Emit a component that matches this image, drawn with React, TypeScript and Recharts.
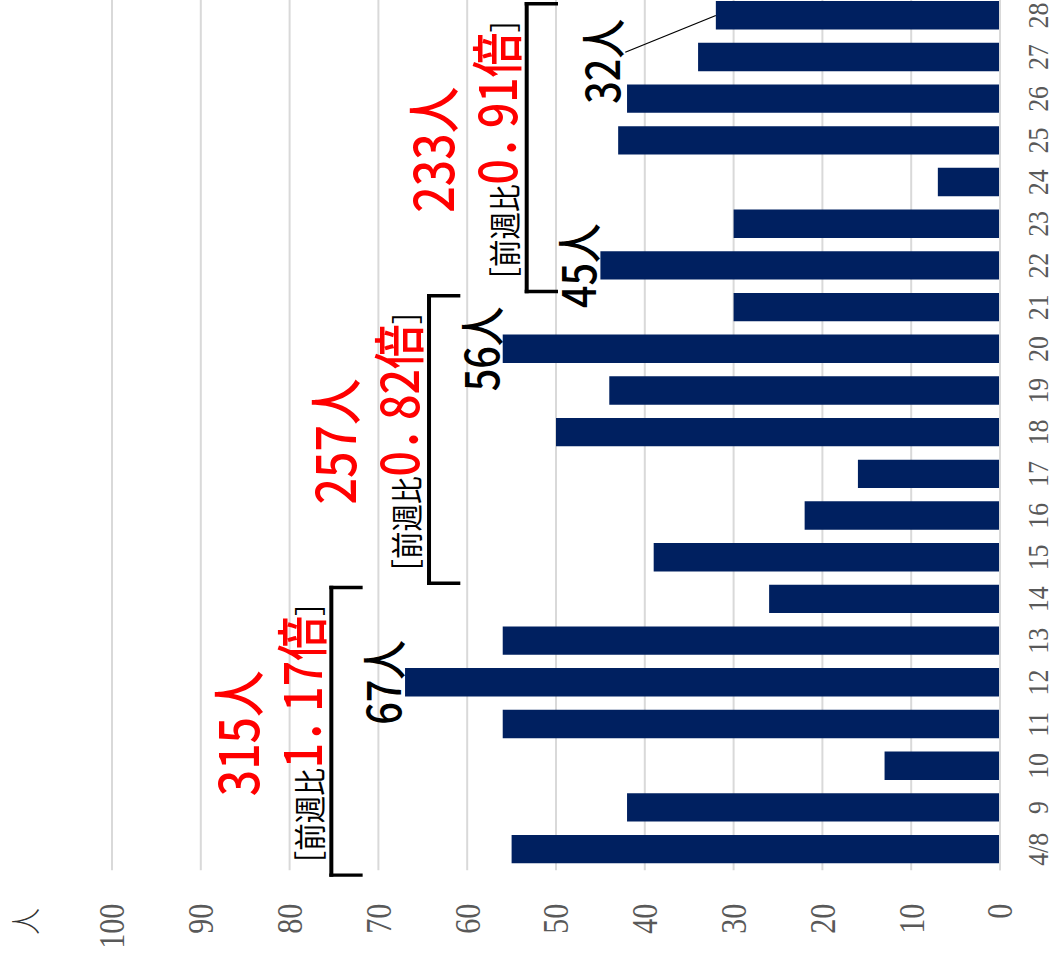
import {
  BarChart,
  Bar,
  XAxis,
  YAxis,
  CartesianGrid,
  ReferenceLine,
  ReferenceDot,
} from "recharts";

// daily new cases, 4/8 .. 4/28
const days = [
  "4/8", "9", "10", "11", "12", "13", "14",
  "15", "16", "17", "18", "19", "20", "21",
  "22", "23", "24", "25", "26", "27", "28",
];
const cases = [
  55, 42, 13, 56, 67, 56, 26,
  39, 22, 16, 50, 44, 56, 30,
  45, 30, 7, 43, 42, 34, 32,
];
const valueTicks = [0, 10, 20, 30, 40, 50, 60, 70, 80, 90, 100];

// weekly summaries
const weekStarts = [0, 7, 14];
const weekTotals = ["315人", "257人", "233人"];
const weekRatios = ["1．17倍", "0．82倍", "0．91倍"];

// days that get a "xx人" callout
const peakDays = ["12", "20", "22"];
const leaderDay = "28";

const data = days.map((d, i) => ({ idx: i, day: d, cases: cases[i] }));

const weeks = weekStarts.map((s, w) => {
  const level = Math.max(...cases.slice(s, s + 7)) + 8.3;
  return {
    x1: s - 0.62,
    x2: s + 6.28,
    mid: s + 2.78,
    level,
    total: weekTotals[w],
    ratio: weekRatios[w],
  };
});

const SQUEEZE = 0.86;
const CHART_W = 1128;
const CHART_H = 1053;
const GOTHIC = '"Noto Sans CJK JP", "Noto Sans", sans-serif';
const SERIF = '"Liberation Serif", "DejaVu Serif", serif';

function TotalText(text: string) {
  return (p: any) => (
    <text x={p.cx} y={p.cy} textAnchor="middle" fill="#ff0000" fontSize={54} fontWeight={500} fontFamily={GOTHIC}>
      {text}
    </text>
  );
}

function RatioText(text: string) {
  const [head, tail] = text.split("．");
  return (p: any) => (
    <text x={p.cx} y={p.cy} textAnchor="middle" fontFamily={GOTHIC}>
      <tspan fontSize={32} fill="#000">［前週比</tspan>
      <tspan fontSize={52} fill="#ff0000" fontWeight={500}>{head}．</tspan>
      <tspan fontSize={52} fill="#ff0000" fontWeight={500} dx={-16}>{tail}</tspan>
      <tspan fontSize={32} fill="#000">］</tspan>
    </text>
  );
}

function CountText(text: string, dy: number) {
  return (p: any) => (
    <text x={p.cx} y={p.cy} dy={dy} textAnchor="middle" fill="#000" fontSize={46} fontWeight={500} fontFamily={GOTHIC}>
      {text}
    </text>
  );
}

export default function App() {
  const leaderIdx = days.indexOf(leaderDay);
  const leaderVal = cases[leaderIdx];

  return (
    <div style={{ position: "absolute", left: 0, top: 0, width: 1053, height: 957, overflow: "hidden", background: "#fff" }}>
      <div
        style={{
          position: "absolute",
          left: 0,
          top: 0,
          width: CHART_W,
          height: CHART_H,
          transformOrigin: "0 0",
          transform: `translateY(957px) rotate(-90deg) scaleX(${SQUEEZE})`,
        }}
      >
        <div
          style={{
            position: "absolute",
            left: 26,
            top: 8,
            fontFamily: GOTHIC,
            fontSize: 31,
            lineHeight: 1,
            fontWeight: 300,
            color: "#333",
          }}
        >
          人
        </div>
        <BarChart width={CHART_W} height={CHART_H} data={data} margin={{ top: 112, right: 9, left: 0, bottom: 0 }}>
          <CartesianGrid vertical={false} stroke="#d9d9d9" strokeWidth={2} />
          <XAxis
            type="number"
            dataKey="idx"
            domain={[-0.5, 20.5]}
            ticks={data.map((d) => d.idx)}
            interval={0}
            tickFormatter={(v) => days[v] ?? ""}
            height={53}
            axisLine={{ stroke: "#d9d9d9", strokeWidth: 2 }}
            tickLine={false}
            tickMargin={21}
            tick={{ fill: "#595959", fontSize: 30, fontFamily: SERIF }}
          />
          <YAxis
            domain={[0, 100]}
            ticks={valueTicks}
            width={101}
            axisLine={false}
            tickLine={false}
            tickMargin={33}
            tick={{ fill: "#595959", fontSize: 35, fontFamily: SERIF }}
          />
          <Bar dataKey="cases" fill="#002060" barSize={33} isAnimationActive={false} />

          {weeks.map((w, i) => (
            <ReferenceLine
              key={`h${i}`}
              segment={[{ x: w.x1, y: w.level }, { x: w.x2, y: w.level }]}
              stroke="#000"
              strokeWidth={4}
              strokeLinecap="square"
              ifOverflow="visible"
            />
          ))}
          {weeks.map((w, i) => (
            <ReferenceLine
              key={`l${i}`}
              segment={[{ x: w.x1, y: w.level }, { x: w.x1, y: w.level - 3.3 }]}
              stroke="#000"
              strokeWidth={4}
              strokeLinecap="square"
              ifOverflow="visible"
            />
          ))}
          {weeks.map((w, i) => (
            <ReferenceLine
              key={`r${i}`}
              segment={[{ x: w.x2, y: w.level }, { x: w.x2, y: w.level - 3.3 }]}
              stroke="#000"
              strokeWidth={4}
              strokeLinecap="square"
              ifOverflow="visible"
            />
          ))}
          {weeks.map((w, i) => (
            <ReferenceDot key={`ra${i}`} x={w.mid} y={w.level + 1.1} r={0} ifOverflow="visible" shape={RatioText(w.ratio)} />
          ))}
          {weeks.map((w, i) => (
            <ReferenceDot key={`t${i}`} x={w.mid} y={w.level + 8.2} r={0} ifOverflow="visible" shape={TotalText(w.total)} />
          ))}
          {peakDays.map((d) => {
            const i = days.indexOf(d);
            return (
              <ReferenceDot key={`p${d}`} x={i} y={cases[i]} r={0} ifOverflow="visible" shape={CountText(`${cases[i]}人`, -4)} />
            );
          })}
          <ReferenceLine
            segment={[{ x: leaderIdx - 0.88, y: leaderVal + 10.2 }, { x: leaderIdx, y: leaderVal }]}
            stroke="#000"
            strokeWidth={1.2}
            ifOverflow="visible"
          />
          <ReferenceDot
            x={leaderIdx - 1.1}
            y={leaderVal + 10.8}
            r={0}
            ifOverflow="visible"
            shape={CountText(`${leaderVal}人`, 0)}
          />
        </BarChart>
      </div>
    </div>
  );
}
